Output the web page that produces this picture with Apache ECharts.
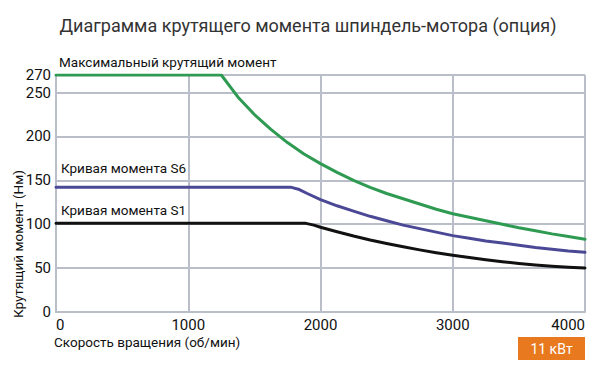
<!DOCTYPE html>
<html>
<head>
<meta charset="utf-8">
<script src="https://cdn.jsdelivr.net/npm/echarts@6/dist/echarts.min.js"></script>
<style>
html,body{margin:0;padding:0;background:#fff;}
#chart{width:600px;height:386px;}
</style>
</head>
<body>
<div id="chart"></div>
<script>
// Data
const titleText = 'Диаграмма крутящего момента шпиндель-мотора (опция)';
const xAxisName = 'Скорость вращения (об/мин)';
const yAxisName = 'Крутящий момент (Нм)';
const powerLabel = '11 кВт';

const maxTorqueName = 'Максимальный крутящий момент';
const maxTorqueRpm = [0, 1250, 1375, 1500, 1625, 1750, 1875, 2000, 2125, 2250, 2375, 2500, 2625, 2750, 2875, 3000, 3125, 3250, 3375, 3500, 3625, 3750, 3875, 4000];
const maxTorqueVal = [270, 270, 245, 225, 208, 193, 180, 169, 159, 150, 142, 135, 129, 123, 117, 112, 108, 104, 100, 96, 92.5, 89, 86, 83];

const s6Name = 'Кривая момента S6';
const s6Rpm = [0, 1780, 1840, 1900, 2000, 2125, 2250, 2375, 2500, 2625, 2750, 2875, 3000, 3125, 3250, 3375, 3500, 3625, 3750, 3875, 4000];
const s6Val = [142, 142, 139.5, 135, 128, 121, 115, 109, 104, 99, 95, 91, 87, 84, 81, 78.5, 76, 73.5, 71.5, 69.5, 68];

const s1Name = 'Кривая момента S1';
const s1Rpm = [0, 1890, 1950, 2000, 2125, 2250, 2375, 2500, 2625, 2750, 2875, 3000, 3125, 3250, 3375, 3500, 3625, 3750, 3875, 4000];
const s1Val = [101, 101, 99, 96.5, 91.5, 86.5, 82, 78, 74.3, 70.8, 67.6, 64.7, 62, 59.5, 57.3, 55.3, 53.6, 52.2, 51, 50.2];

const xMin = 0, xMax = 4000, xStep = 1000;
const yMin = 0, yMax = 270, yStep = 50;

const zip = (a, b) => a.map((v, i) => [v, b[i]]);
const FONT = 'Roboto, "Noto Sans", sans-serif';
const gridColor = '#b9bec9';

const chart = echarts.init(document.getElementById('chart'), null, {renderer: 'svg'});
const gridLeft = 56, gridTop = 75, gridRight = 15, gridBottom = 74;

function lineSeries(name, xs, ys, color) {
  return {name: name, type: 'line', data: zip(xs, ys), showSymbol: false,
    smooth: false, lineStyle: {color: color, width: 3, join: 'round', cap: 'round'}, z: 3};
}

chart.setOption({
  backgroundColor: '#ffffff',
  animation: false,
  grid: {left: gridLeft, top: gridTop, right: gridRight, bottom: gridBottom, containLabel: false},
  xAxis: {
    type: 'value', min: xMin, max: xMax, interval: xStep,
    axisLine: {show: true, lineStyle: {color: gridColor, width: 2}},
    axisTick: {show: false},
    splitLine: {show: true, lineStyle: {color: gridColor, width: 2}},
    axisLabel: {color: '#111', fontSize: 15, fontFamily: FONT, margin: 5,
      alignMinLabel: 'left', alignMaxLabel: 'right', formatter: (v) => String(v)}
  },
  yAxis: {
    type: 'value', min: yMin, max: yMax, interval: yStep,
    axisLine: {show: true, lineStyle: {color: gridColor, width: 2}},
    axisTick: {show: false},
    splitLine: {show: true, lineStyle: {color: gridColor, width: 2}},
    axisLabel: {color: '#111', fontSize: 15, fontFamily: FONT, margin: 5, formatter: (v) => String(v)}
  },
  series: [
    lineSeries(maxTorqueName, maxTorqueRpm, maxTorqueVal, '#2e9a52'),
    lineSeries(s6Name, s6Rpm, s6Val, '#4b4896'),
    lineSeries(s1Name, s1Rpm, s1Val, '#111111')
  ],
  graphic: [
    {type: 'text', x: 308, y: 25, style: {text: titleText, font: '18px ' + FONT, fill: '#333', align: 'center', verticalAlign: 'middle'}},
    {type: 'text', x: 59, y: 62, style: {text: maxTorqueName, font: '13.5px ' + FONT, fill: '#111', verticalAlign: 'middle'}},
    {type: 'text', x: 61, y: 168, style: {text: s6Name, font: '13.5px ' + FONT, fill: '#111', verticalAlign: 'middle'}},
    {type: 'text', x: 61, y: 210, style: {text: s1Name, font: '13.5px ' + FONT, fill: '#111', verticalAlign: 'middle'}},
    {type: 'text', x: 18, y: 244, rotation: Math.PI / 2,
      style: {text: yAxisName, font: '13.5px ' + FONT, fill: '#111', align: 'center', verticalAlign: 'middle'}},
    {type: 'text', x: 54, y: 342, style: {text: xAxisName, font: '13.5px ' + FONT, fill: '#111', verticalAlign: 'middle'}},
    {type: 'rect', shape: {x: 518, y: 337, width: 67, height: 23}, style: {fill: '#e8791f'}},
    {type: 'text', x: 551.5, y: 348.5, style: {text: powerLabel, font: '14px ' + FONT, fill: '#fff', align: 'center', verticalAlign: 'middle'}}
  ]
});
</script>
</body>
</html>
